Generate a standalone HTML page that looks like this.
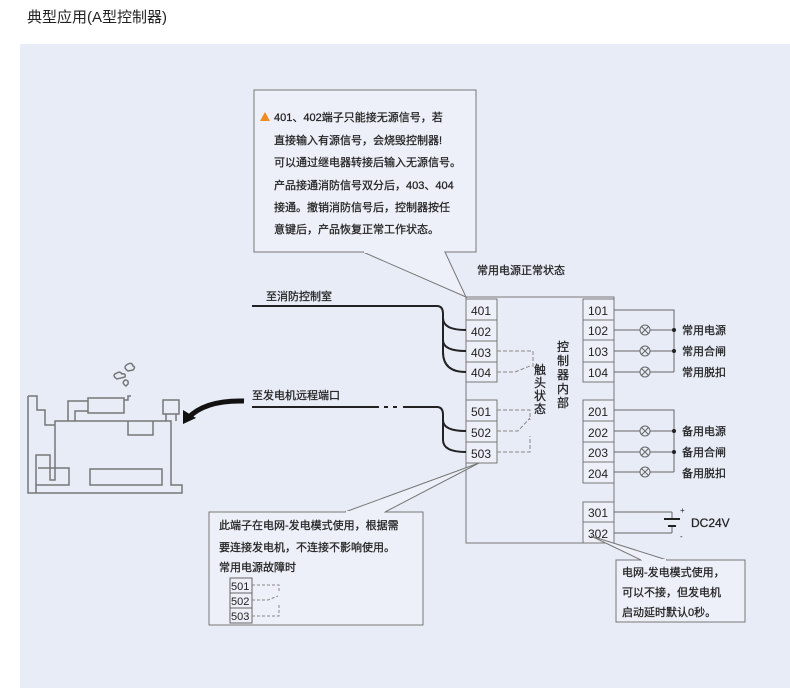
<!DOCTYPE html>
<html><head><meta charset="utf-8"><style>
body{margin:0;background:#fff;width:790px;height:698px;overflow:hidden;font-family:"Liberation Sans","Noto Sans CJK SC",sans-serif}
svg{display:block}
text{font-family:"Liberation Sans","Noto Sans CJK SC",sans-serif;fill:#222}
.b text, text.b{stroke:#222;stroke-width:0.25}
</style></head><body>
<svg width="790" height="698" xmlns="http://www.w3.org/2000/svg">
<text x="27" y="22" font-size="15" fill="#333">典型应用(A型控制器)</text>
<rect x="20" y="44" width="770" height="644" fill="#e8ecf7"/>

<!-- top callout -->
<rect x="254" y="90" width="222" height="162" fill="#edf0f8" stroke="#777" stroke-width="1"/>
<polyline points="363,252 466,297 445,252" fill="#edf0f8" stroke="#777"/>
<line x1="364" y1="252" x2="444" y2="252" stroke="#edf0f8" stroke-width="2"/>
<polygon points="260,121 265,112 270,121" fill="#f08a24"/>
<g font-size="11" class="b">
<text x="274" y="121">401、402端子只能接无源信号，若</text>
<text x="274" y="144">直接输入有源信号，会烧毁控制器!</text>
<text x="274" y="166">可以通过继电器转接后输入无源信号。</text>
<text x="274" y="189">产品接通消防信号双分后，403、404</text>
<text x="274" y="211">接通。撤销消防信号后，控制器按任</text>
<text x="274" y="233">意键后，产品恢复正常工作状态。</text>
<text x="477" y="274">常用电源正常状态</text>
</g>

<!-- main box -->
<rect x="466" y="297" width="148" height="246" fill="none" stroke="#777"/>
<g fill="#edf0f8" stroke="#777">
<rect x="466" y="299" width="31" height="21"/><rect x="466" y="320" width="31" height="21"/><rect x="466" y="341" width="31" height="21"/><rect x="466" y="362" width="31" height="20"/>
<rect x="466" y="400" width="31" height="21"/><rect x="466" y="421" width="31" height="21"/><rect x="466" y="442" width="31" height="21"/>
<rect x="583" y="299" width="31" height="21"/><rect x="583" y="320" width="31" height="20"/><rect x="583" y="340" width="31" height="22"/><rect x="583" y="362" width="31" height="20"/>
<rect x="583" y="400" width="31" height="21"/><rect x="583" y="421" width="31" height="21"/><rect x="583" y="442" width="31" height="20"/><rect x="583" y="462" width="31" height="21"/>
<rect x="583" y="502" width="31" height="20"/><rect x="583" y="522" width="31" height="21"/>
</g>
<g font-size="12" fill="#222">
<text x="471" y="315">401</text><text x="471" y="336">402</text><text x="471" y="357">403</text><text x="471" y="377">404</text>
<text x="471" y="416">501</text><text x="471" y="437">502</text><text x="471" y="458">503</text>
<text x="588" y="315">101</text><text x="588" y="335">102</text><text x="588" y="356">103</text><text x="588" y="377">104</text>
<text x="588" y="416">201</text><text x="588" y="437">202</text><text x="588" y="457">203</text><text x="588" y="478">204</text>
<text x="588" y="517">301</text><text x="588" y="538">302</text>
</g>
<g font-size="12" class="b">
<text x="534" y="374">触</text><text x="534" y="387">头</text><text x="534" y="400">状</text><text x="534" y="413">态</text>
<text x="557" y="351">控</text><text x="557" y="365">制</text><text x="557" y="379">器</text><text x="557" y="393">内</text><text x="557" y="407">部</text>
</g>
<!-- dashed contacts -->
<g fill="none" stroke="#888" stroke-dasharray="4,2">
<polyline points="497,351 533,351 533,368"/>
<polyline points="497,372 515,372 530,366"/>
<polyline points="497,410 530,410 530,420"/>
<polyline points="497,431 518,431 530,418"/>
<polyline points="497,452 530,452 530,436"/>
</g>
<!-- left wires -->
<g fill="none" stroke="#222" stroke-width="2">
<line x1="252" y1="306" x2="437" y2="306"/>
<path d="M437,306 Q443,306 443,314 L443,352 Q443,372 466,372"/>
<path d="M443,318 Q443,330 466,330"/><path d="M443,340 Q443,351 466,351"/>
<line x1="252" y1="407" x2="379" y2="407"/>
<line x1="384" y1="407" x2="388" y2="407"/><line x1="393" y1="407" x2="397" y2="407"/>
<line x1="403" y1="407" x2="437" y2="407"/>
<path d="M437,407 Q443,407 443,415 L443,440 Q443,452 466,452"/>
<path d="M443,420 Q443,431 466,431"/>
</g>
<text x="266" y="300" font-size="11" class="b">至消防控制室</text>
<text x="252" y="399" font-size="11" class="b">至发电机远程端口</text>

<!-- right lamps -->
<g fill="none" stroke="#666">
<polyline points="614,310 674,310 674,372"/>
<line x1="614" y1="330" x2="674" y2="330"/><line x1="614" y1="351" x2="674" y2="351"/><line x1="614" y1="372" x2="674" y2="372"/>
<polyline points="614,410 674,410 674,472"/>
<line x1="614" y1="431" x2="674" y2="431"/><line x1="614" y1="452" x2="674" y2="452"/><line x1="614" y1="472" x2="674" y2="472"/>
<line x1="614" y1="512" x2="672" y2="512"/><line x1="614" y1="533" x2="672" y2="533"/>
<line x1="672" y1="512" x2="672" y2="519"/><line x1="672" y1="526" x2="672" y2="533"/>
</g>
<g stroke="#666" fill="#e8ecf7">
<g id="l"><circle cx="645" cy="330" r="5"/><path d="M641.5,326.5 648.5,333.5 M648.5,326.5 641.5,333.5"/></g>
<use href="#l" y="21"/><use href="#l" y="42"/><use href="#l" y="101"/><use href="#l" y="122"/><use href="#l" y="142"/>
</g>
<g fill="#222"><circle cx="674" cy="330" r="2"/><circle cx="674" cy="351" r="2"/><circle cx="674" cy="431" r="2"/><circle cx="674" cy="452" r="2"/></g>
<line x1="664" y1="519" x2="680" y2="519" stroke="#222" stroke-width="2"/>
<line x1="668" y1="526" x2="676" y2="526" stroke="#222" stroke-width="2"/>
<g font-size="11" class="b">
<text x="682" y="334">常用电源</text><text x="682" y="355">常用合闸</text><text x="682" y="376">常用脱扣</text>
<text x="682" y="435">备用电源</text><text x="682" y="456">备用合闸</text><text x="682" y="477">备用脱扣</text>
<text x="691" y="527" font-size="12">DC24V</text>
</g>
<text x="680" y="513" font-size="8">+</text><text x="680" y="539" font-size="8">-</text>

<!-- bottom right callout -->
<rect x="616" y="560" width="129" height="62" fill="#edf0f8" stroke="#777"/>
<polyline points="641,560 591,536 667,560" fill="#edf0f8" stroke="#777"/>
<line x1="642" y1="560" x2="666" y2="560" stroke="#edf0f8" stroke-width="2"/>
<g font-size="11" class="b"><text x="622" y="576">电网-发电模式使用，</text><text x="622" y="596">可以不接，但发电机</text><text x="622" y="616">启动延时默认0秒。</text></g>

<!-- left callout -->
<rect x="209" y="512" width="214" height="113" fill="#edf0f8" stroke="#777"/>
<polyline points="345,512 479,463 385,512" fill="#edf0f8" stroke="#777"/>
<line x1="346" y1="512" x2="384" y2="512" stroke="#edf0f8" stroke-width="2"/>
<g font-size="11" class="b"><text x="219" y="529">此端子在电网-发电模式使用，根据需</text><text x="219" y="551">要连接发电机，不连接不影响使用。</text><text x="219" y="571">常用电源故障时</text></g>
<g fill="none" stroke="#666"><rect x="230" y="578" width="22" height="15"/><rect x="230" y="593" width="22" height="15"/><rect x="230" y="608" width="22" height="15"/></g>
<g font-size="11"><text x="231" y="590">501</text><text x="231" y="605">502</text><text x="231" y="620">503</text></g>
<g fill="none" stroke="#888" stroke-dasharray="3,2"><polyline points="252,585 279,585 279,593"/><polyline points="252,600 268,600 278,596"/><polyline points="252,616 279,616 279,603"/></g>

<!-- generator -->
<g fill="none" stroke="#777" stroke-width="1.5">
<path d="M28,396 L37,396 L37,410 L45,410 L45,425 L55,425 L55,480 L50,480 L50,455 L36,455 L36,493 L182,493 L182,485 L171,485 L171,421 L55,421 M55,425 L55,421 L128,421 L128,435 L153,435 L153,421 L171,421 M28,396 L28,493 L36,493"/>
<path d="M38,468 L48,468 L69,468 L69,485 L36,485"/>
<rect x="90" y="469" width="72" height="16"/>
<rect x="88" y="398" width="36" height="15"/>
<path d="M124,400 L128,400 L128,396 L131,396 M68,421 L68,401 L88,401 M75,421 L75,411 L88,411"/>
<rect x="163" y="400" width="16" height="14"/>
<path d="M166,414 L166,421 M176,414 L176,421"/>
<path d="M117,379 q-6,-4 0,-6 q3,-2 5,1 q4,-1 3,3 z M128,371 q-6,-4 0,-7 q4,-2 5,2 q3,1 0,4 z M126,386 q-5,-3 -1,-6 q4,0 3,4 z"/>
</g>
<path d="M244,401 Q205,400 188,418" fill="none" stroke="#111" stroke-width="5"/>
<polygon points="183,424 183,410 196,418" fill="#111"/>
</svg>
</body></html>
